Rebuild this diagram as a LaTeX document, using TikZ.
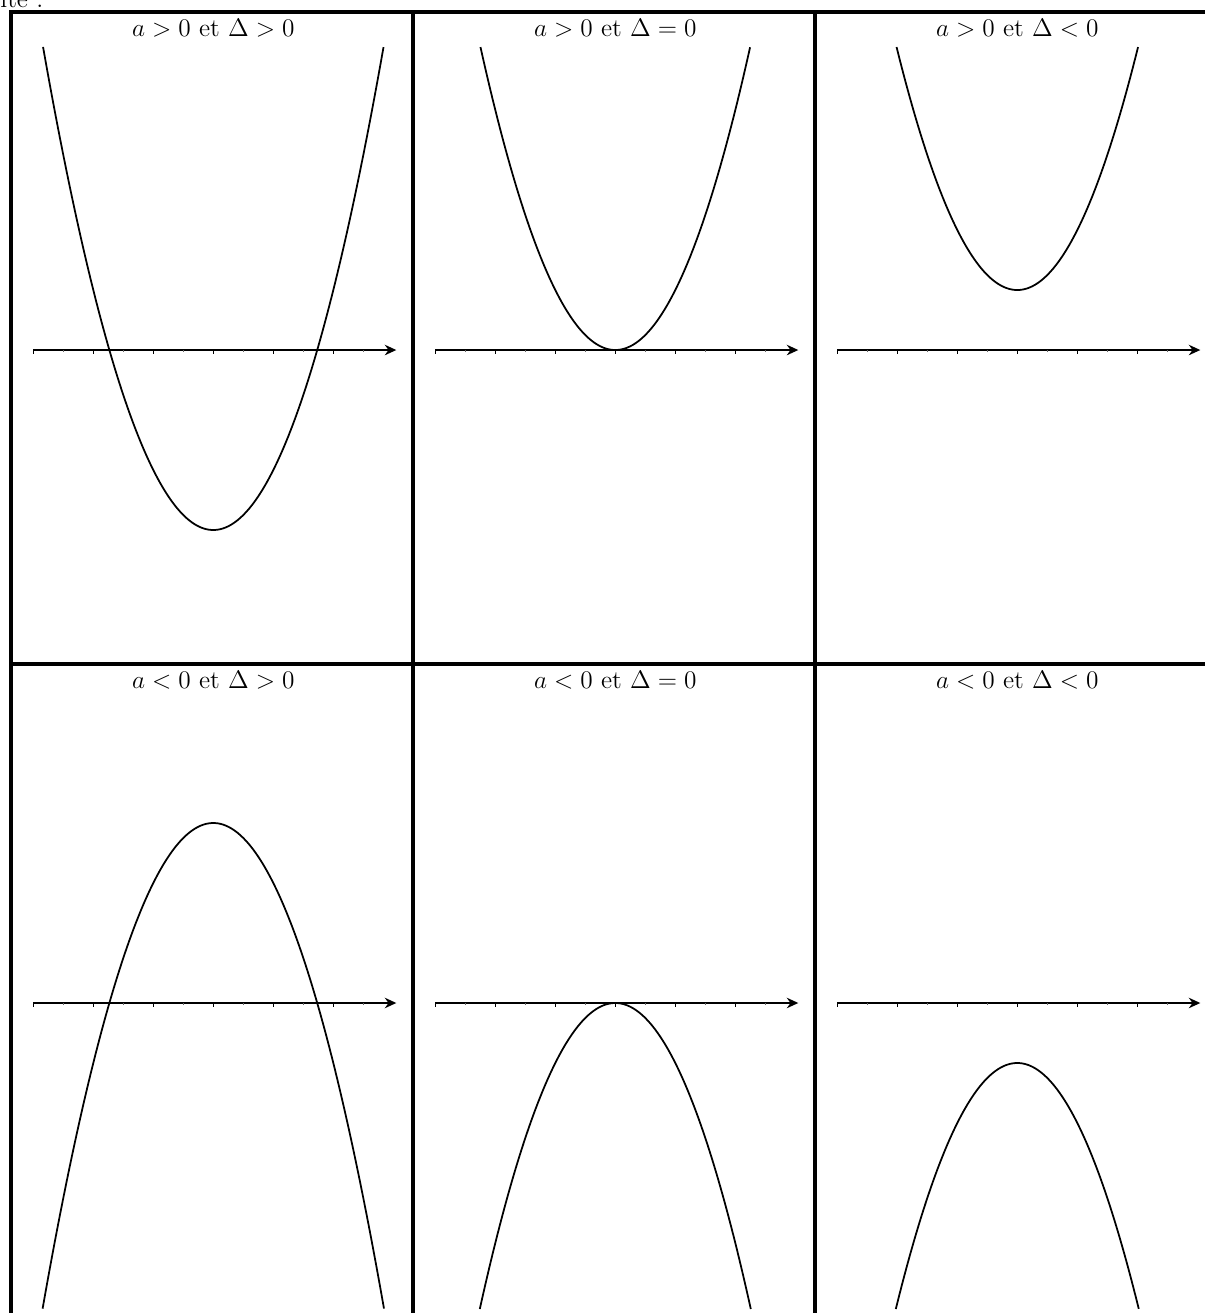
\documentclass[tikz,border=0pt]{standalone}
\usepackage{tikz}
\usetikzlibrary{arrows.meta, calc, positioning}

\begin{document}
\begin{tikzpicture}[x=0.6cm, y=0.6cm,
  grille/.style={line width=1.9pt},
  axe/.style={line width=0.9pt, -{Stealth[length=2.3mm, width=2.1mm]}},
  graduation/.style={line width=0.5pt},
  petitegrad/.style={line width=0.4pt, black!60},
  courbe/.style={line width=1pt, samples=120, smooth},
  titre/.style={font=\fontsize{14.5}{17}\selectfont, anchor=base, inner sep=0pt}]
  \useasboundingbox (0,0) rectangle (40.1667,-43.7667);

  % fin de la phrase au-dessus du tableau (coupee par le bord)
  \node[titre, anchor=base west] (suite) at (0,-0.25) {ite :};

  % lignes du tableau
  \draw[grille] (0.3667,-43.9) -- (0.3667,-0.4) -- (41,-0.4);
  \draw[grille] (13.767,-43.9) -- (13.767,-0.4);
  \draw[grille] (27.167,-43.9) -- (27.167,-0.4);
  \draw[grille] (0.3667,-22.133) -- (41,-22.133);

  % une case : axe gradue, parabole y = s x^2/2 + k, titre
  \foreach \cx/\cy/\s/\k/\xm/\txt [count=\i] in {
      7.11/-11.667/1/-6/5.675/{$a>0$ et $\Delta>0$},
      20.51/-11.667/1/0/4.494/{$a>0$ et $\Delta=0$},
      33.91/-11.667/1/2/4.025/{$a>0$ et $\Delta<0$},
      7.11/-33.433/-1/6/5.69/{$a<0$ et $\Delta>0$},
      20.51/-33.433/-1/0/4.517/{$a<0$ et $\Delta=0$},
      33.91/-33.433/-1/-2/4.05/{$a<0$ et $\Delta<0$}}
  {
    \begin{scope}[shift={(\cx,\cy)}]
      \coordinate (o\i) at (0,0);
      \draw[axe] (-6,0) -- (6.1,0);
      \foreach \t in {-6,-4,...,4} \draw[graduation] (\t,0) -- (\t,-0.12);
      \foreach \t in {-5,-3,...,5} \draw[petitegrad] (\t,0) -- (\t,-0.07);
      \draw[courbe, domain=-\xm:\xm] plot (\x, {\s*0.5*\x*\x + \k});
      \node[titre] (titre\i) at (0,10.467) {\txt};
    \end{scope}
  }
\end{tikzpicture}
\end{document}
